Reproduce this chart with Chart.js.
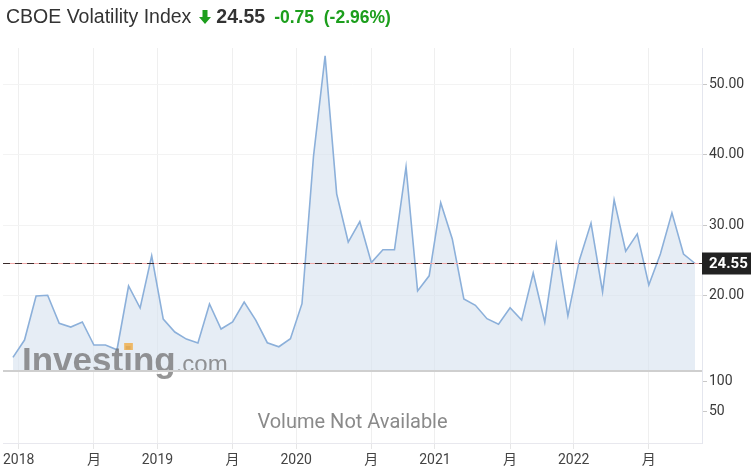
<!DOCTYPE html>
<html><head><meta charset="utf-8">
<script src="https://cdn.jsdelivr.net/npm/chart.js@4.4.1/dist/chart.umd.min.js"></script>
<style>
html,body{margin:0;padding:0;background:#fff;}
#wrap{position:relative;width:756px;height:476px;overflow:hidden;}
#c{position:absolute;left:0;top:0;}
#title{position:absolute;left:6px;top:5px;font-family:"Liberation Sans",Arial,sans-serif;white-space:nowrap;color:#333;line-height:22px;}
#title .name{font-size:19.5px;}
#title .arrow{display:inline-block;vertical-align:-1px;margin-left:8px;}
#title .last{font-size:19.5px;font-weight:bold;margin-left:5px;}
#title .chg{font-size:17.5px;font-weight:bold;color:#1c9e1c;margin-left:9px;}
</style></head>
<body>
<div id="wrap">
<canvas id="c" width="756" height="476"></canvas>
<div id="title"><span class="name">CBOE Volatility Index</span><svg class="arrow" width="12" height="14" viewBox="0 0 12 14"><path d="M3.5 0 H8.5 V7 H12 L6 14 L0 7 H3.5 Z" fill="#1c9e1c"/></svg><span class="last">24.55</span><span class="chg">-0.75 &nbsp;(-2.96%)</span></div>
</div>
<script>
const months = [
 "2017-12",
 "2018-01","2018-02","2018-03","2018-04","2018-05","2018-06","2018-07","2018-08","2018-09","2018-10","2018-11","2018-12",
 "2019-01","2019-02","2019-03","2019-04","2019-05","2019-06","2019-07","2019-08","2019-09","2019-10","2019-11","2019-12",
 "2020-01","2020-02","2020-03","2020-04","2020-05","2020-06","2020-07","2020-08","2020-09","2020-10","2020-11","2020-12",
 "2021-01","2021-02","2021-03","2021-04","2021-05","2021-06","2021-07","2021-08","2021-09","2021-10","2021-11","2021-12",
 "2022-01","2022-02","2022-03","2022-04","2022-05","2022-06","2022-07","2022-08","2022-09","2022-10","2022-11"
];
const closes = [
 11.2,
 13.66,19.93,20.03,16.04,15.51,16.23,12.95,12.95,12.28,21.35,18.22,25.63,
 16.65,14.8,13.8,13.23,18.8,15.23,16.23,19.07,16.5,13.28,12.71,13.85,
 18.83,39.87,54.1,34.46,27.6,30.5,24.67,26.5,26.5,38.3,20.64,22.8,
 33.2,28.05,19.5,18.6,16.7,15.9,18.26,16.5,23.2,16.2,27.3,17.1,
 25.06,30.3,20.5,33.6,26.3,28.76,21.5,25.9,31.75,25.9,24.55
];
const xTickLabels = ["2018","月","2019","月","2020","月","2021","月","2022","月"];
const priceTicks = [20, 30, 40, 50];
const volumeTicks = [50, 100];
const lastClose = closes[closes.length - 1];

// tick positions derived from the month categories
let curYear = null;
const xTickPos = xTickLabels.map(l => {
  if (l !== "月") { curYear = l; return months.indexOf(l + "-01") - 0.5; }
  return months.indexOf(curYear + "-07");
});

const points = closes.map((v, i) => ({x: i, y: v}));

const overlay = {
  id: 'overlay',
  afterDatasetsDraw(chart) {
    const {ctx, chartArea, scales} = chart;
    const y = scales.y, y2 = scales.y2;
    ctx.save();
    // watermark
    const wx = 22, wy = 372;
    ctx.globalAlpha = 0.72;
    ctx.fillStyle = '#6e6e6e';
    ctx.textBaseline = 'alphabetic';
    ctx.font = 'bold 35px "Liberation Sans", Arial, sans-serif';
    ctx.textAlign = 'left';
    ctx.fillText('Investing', wx, wy);
    const w = ctx.measureText('Investing').width;
    const wi = ctx.measureText('Invest').width;
    const wdot = ctx.measureText('i').width;
    ctx.font = '24px "Liberation Sans", Arial, sans-serif';
    ctx.fillText('.com', wx + w, wy);
    ctx.fillStyle = '#f0b050';
    ctx.globalAlpha = 0.85;
    ctx.fillRect(wx + wi + 1, 343, wdot - 1, 7);
    ctx.globalAlpha = 1;
    // separator between panels
    ctx.strokeStyle = '#cfcfcf';
    ctx.lineWidth = 2;
    ctx.beginPath();
    ctx.moveTo(chartArea.left, y.bottom);
    ctx.lineTo(chartArea.right, y.bottom);
    ctx.stroke();
    // last price line
    const py = Math.round(y.getPixelForValue(lastClose)) + 0.5;
    ctx.lineWidth = 1;
    ctx.strokeStyle = '#f0a8a8';
    ctx.beginPath(); ctx.moveTo(chartArea.left, py); ctx.lineTo(chartArea.right, py); ctx.stroke();
    ctx.strokeStyle = '#3a2a2a';
    ctx.setLineDash([7, 5]);
    ctx.beginPath(); ctx.moveTo(chartArea.left, py); ctx.lineTo(chartArea.right, py); ctx.stroke();
    ctx.setLineDash([]);
    // last price box
    ctx.fillStyle = '#222';
    ctx.fillRect(chartArea.right, py - 11, 49, 22);
    ctx.fillStyle = '#fff';
    ctx.font = 'bold 15px Roboto, "Liberation Sans", sans-serif';
    ctx.textAlign = 'left';
    ctx.textBaseline = 'middle';
    ctx.fillText(lastClose.toFixed(2), chartArea.right + 7, py + 1);
    // volume text
    ctx.fillStyle = '#8a8a8a';
    ctx.font = '20px Roboto, "Liberation Sans", sans-serif';
    ctx.textAlign = 'center';
    ctx.fillText('Volume Not Available', (chartArea.left + chartArea.right) / 2, y2.bottom - 20);
    ctx.restore();
  }
};

new Chart(document.getElementById('c'), {
  type: 'line',
  data: {
    datasets: [{
      data: points,
      yAxisID: 'y',
      borderColor: '#8cb0da',
      borderWidth: 1.6,
      backgroundColor: 'rgba(214,225,238,0.6)',
      fill: 'start',
      pointRadius: 0,
      tension: 0
    }]
  },
  options: {
    responsive: false,
    animation: false,
    events: [],
    layout: {padding: {top: 48, left: 0, right: 0, bottom: 0}},
    plugins: {legend: {display: false}, tooltip: {enabled: false}},
    scales: {
      x: {
        type: 'linear',
        min: -0.86, max: 59.6,
        afterBuildTicks: s => { s.ticks = xTickPos.map(v => ({value: v})); },
        afterFit: s => { s.height = 33; },
        grid: {color: '#efefef', tickLength: 6, tickColor: '#e6e6e6'},
        border: {color: '#e8e8ee'},
        ticks: {
          autoSkip: false, maxRotation: 0, padding: 3,
          color: '#444',
          font: {family: 'Roboto, "Noto Sans CJK SC", sans-serif', size: 14},
          callback: (v, i) => xTickLabels[i]
        }
      },
      y: {
        position: 'right',
        stack: 'panels', stackWeight: 323,
        min: 9.26, max: 55.2,
        afterBuildTicks: s => { s.ticks = priceTicks.map(v => ({value: v})); },
        afterFit: s => { s.width = 54; },
        grid: {color: '#f3f3f3', tickLength: 5, tickColor: '#c8c8c8'},
        border: {color: '#e4e6ee'},
        ticks: {
          padding: 2, color: '#3a3a3a',
          font: {family: 'Roboto, sans-serif', size: 14},
          callback: v => Number(v).toFixed(2)
        }
      },
      y2: {
        position: 'right',
        stack: 'panels', stackWeight: 72,
        min: -1.7, max: 118.3,
        afterBuildTicks: s => { s.ticks = volumeTicks.map(v => ({value: v})); },
        afterFit: s => { s.width = 54; },
        grid: {drawOnChartArea: false, tickLength: 5, tickColor: '#c8c8c8'},
        border: {color: '#e4e6ee'},
        ticks: {
          padding: 2, color: '#3a3a3a',
          font: {family: 'Roboto, sans-serif', size: 14},
          callback: v => String(v)
        }
      }
    }
  },
  plugins: [overlay]
});
</script>
</body></html>
